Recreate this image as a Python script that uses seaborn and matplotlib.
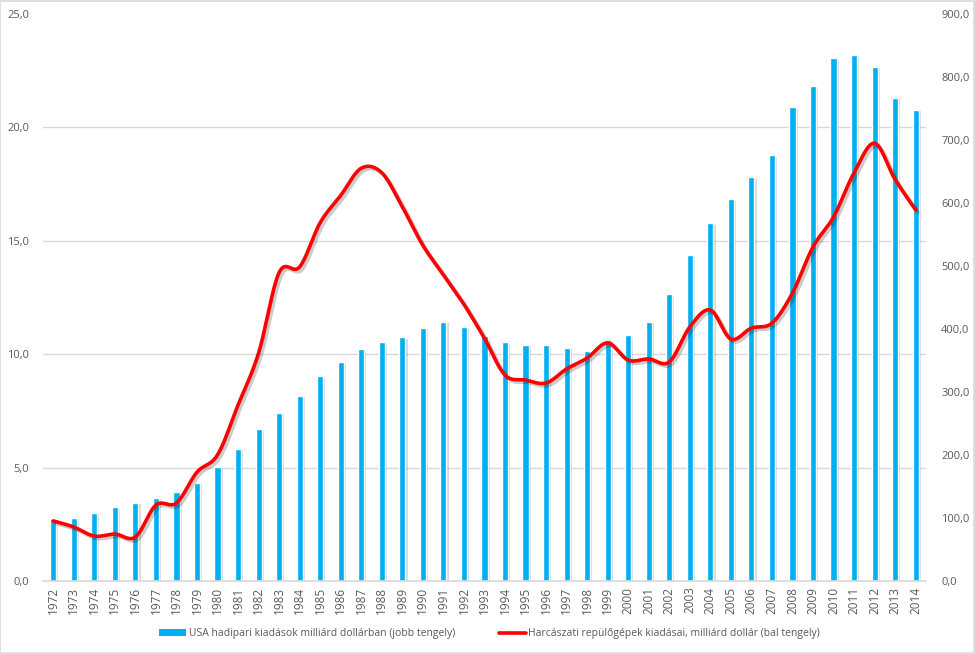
import numpy as np
import pandas as pd
import seaborn as sns
import matplotlib.pyplot as plt
import matplotlib.patheffects as pe
from matplotlib.patches import Patch, Rectangle
from matplotlib.lines import Line2D
from matplotlib.ticker import FixedLocator, FuncFormatter

years = [1972, 1973, 1974, 1975, 1976, 1977, 1978, 1979, 1980, 1981,
         1982, 1983, 1984, 1985, 1986, 1987, 1988, 1989, 1990, 1991,
         1992, 1993, 1994, 1995, 1996, 1997, 1998, 1999, 2000, 2001,
         2002, 2003, 2004, 2005, 2006, 2007, 2008, 2009, 2010, 2011,
         2012, 2013, 2014]
# USA military spending, billion USD (right axis)
spending = [98, 100, 108, 117, 124, 132, 141, 156, 181, 210,
            241, 267, 294, 325, 348, 368, 379, 387, 402, 411,
            403, 389, 379, 375, 375, 370, 365, 383, 390, 411,
            455, 517, 568, 606, 641, 676, 752, 786, 830, 835,
            816, 767, 748]
# Combat aircraft spending, billion USD (left axis)
aircraft = [2.65, 2.38, 1.98, 2.07, 1.94, 3.35, 3.44, 4.8, 5.56, 7.76,
            10.05, 13.6, 13.85, 15.8, 17.0, 18.2, 18.0, 16.5, 14.8, 13.5,
            12.2, 10.7, 9.08, 8.86, 8.73, 9.35, 9.83, 10.5, 9.74, 9.79,
            9.66, 11.2, 11.95, 10.67, 11.15, 11.37, 12.7, 14.73, 16.05, 18.0,
            19.3, 17.7, 16.36]

bar_label = "USA hadipari kiadások milliárd dollárban (jobb tengely)"
line_label = "Harcászati repülőgépek kiadásai, milliárd dollár (bal tengely)"

BLUE = "#00b0f0"
RED = "#ff0000"
GREY_TXT = "#595959"
GRID = "#d9d9d9"

sns.set_theme(style="white")
plt.rcParams["font.family"] = ["Open Sans", "DejaVu Sans"]

fig = plt.figure(figsize=(9.75, 6.54), dpi=100)
fig.patches.append(Rectangle((0.0005, 0.0008), 0.998, 0.998, transform=fig.transFigure,
                             fill=False, edgecolor=GRID, linewidth=1.2, zorder=0))
ax = fig.add_axes([0.0441, 0.1116, 0.9056, 0.867])
ax2 = ax.twinx()

df = pd.DataFrame({"year": [str(y) for y in years], "spend": spending})
sns.barplot(data=df, x="year", y="spend", color=BLUE, saturation=1, width=0.3, ax=ax)
for p in ax.patches:
    p.set_path_effects([pe.SimplePatchShadow(offset=(1.5, -1.0), shadow_rgbFace="#000000", alpha=0.15),
                        pe.Normal()])

ax.set_xlim(-0.5, len(years) - 0.5)
ax.set_ylim(0, 900)
ax.set_xlabel("")
ax.set_ylabel("")
ax.yaxis.tick_right()
ax.yaxis.set_major_locator(FixedLocator(np.arange(0, 901, 100)))
ax.yaxis.set_major_formatter(FuncFormatter(lambda v, p: f"{v:.1f}".replace(".", ",")))
ax.yaxis.set_minor_locator(FixedLocator(np.linspace(0, 900, 6)))
ax.grid(which="minor", axis="y", color=GRID, linewidth=1)
ax.grid(which="major", axis="y", visible=False)
ax.grid(axis="x", visible=False)
ax.tick_params(axis="y", which="both", length=0, labelsize=8, labelcolor=GREY_TXT, pad=11)
ax.tick_params(axis="x", length=0, labelsize=8.5, labelcolor=GREY_TXT, rotation=90, pad=4)
for s in ["top", "left", "right"]:
    ax.spines[s].set_visible(False)
ax.spines["bottom"].set_color(GRID)
ax.set_axisbelow(True)

# smoothed line (Excel-style Bezier smoothing between the data points)
def smooth(xv, yv, n=20):
    xv = np.asarray(xv, float)
    yv = np.asarray(yv, float)
    P = np.column_stack([xv, yv])
    P = np.vstack([P[0], P, P[-1]])
    out = []
    t = np.linspace(0, 1, n, endpoint=False)
    for i in range(1, len(P) - 2):
        p0, p1, p2, p3 = P[i - 1], P[i], P[i + 1], P[i + 2]
        c1 = p1 + (p2 - p0) / 6
        c2 = p2 - (p3 - p1) / 6
        tt = t[:, None]
        seg = ((1 - tt) ** 3) * p1 + 3 * ((1 - tt) ** 2) * tt * c1 + 3 * (1 - tt) * tt ** 2 * c2 + tt ** 3 * p2
        out.append(seg)
    out.append(P[-2][None, :])
    out = np.vstack(out)
    return out[:, 0], out[:, 1]

sx, sy = smooth(np.arange(len(years)), aircraft)
sns.lineplot(x=sx, y=sy, ax=ax2, color=RED, linewidth=2.6, sort=False, estimator=None)
ax2.lines[0].set_path_effects([pe.SimpleLineShadow(offset=(1.8, -1.8), shadow_color="#000000", alpha=0.2),
                               pe.Normal()])
ax2.set_ylim(0, 25)
ax2.set_xlim(-0.5, len(years) - 0.5)
ax2.yaxis.tick_left()
ax2.yaxis.set_major_locator(FixedLocator(np.arange(0, 26, 5)))
ax2.yaxis.set_major_formatter(FuncFormatter(lambda v, p: f"{v:.1f}".replace(".", ",")))
ax2.tick_params(axis="y", length=0, labelsize=8, labelcolor=GREY_TXT, pad=10)
ax2.set_ylabel("")
ax2.grid(False)
for s in ax2.spines.values():
    s.set_visible(False)

handles = [Patch(facecolor=BLUE, edgecolor="none"),
           Line2D([0], [0], color=RED, linewidth=2.6)]
fig.legend(handles, [bar_label, line_label], loc="center", bbox_to_anchor=(0.502, 0.031),
           ncol=2, frameon=False, fontsize=7.5, labelcolor=GREY_TXT,
           handlelength=2.6, handleheight=0.6, handletextpad=0.2, columnspacing=4.2)

fig.savefig("out.png", dpi=100)
